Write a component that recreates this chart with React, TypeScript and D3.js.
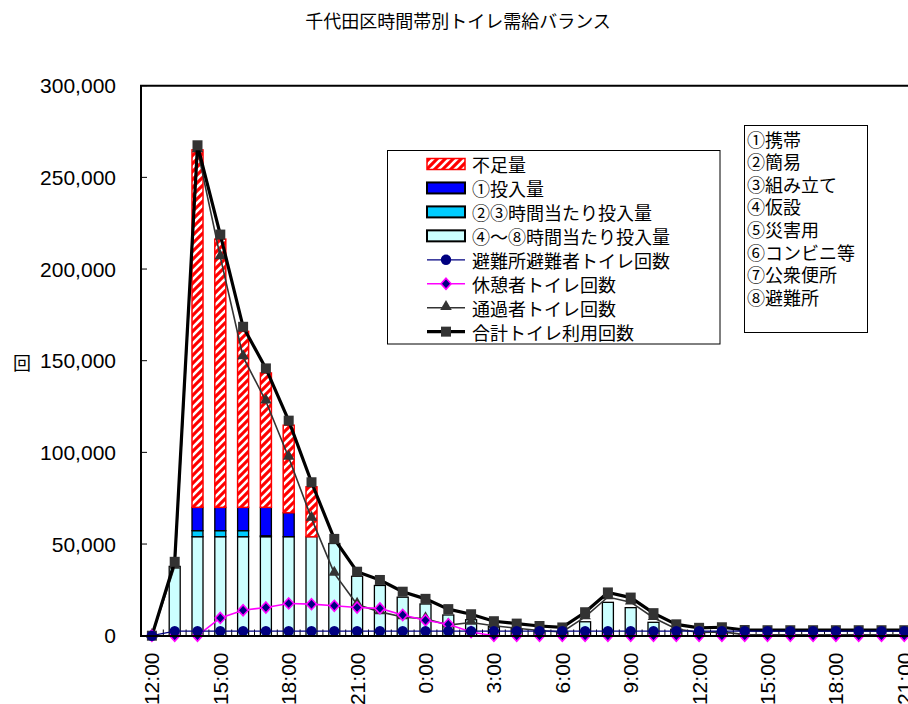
import React from "react";
import * as d3 from "d3";

// ---- data (hourly, from 12:00 day 1) ----
const HOURS: string[] = [
  "12:00","13:00","14:00","15:00","16:00","17:00","18:00","19:00","20:00","21:00","22:00","23:00",
  "0:00","1:00","2:00","3:00","4:00","5:00","6:00","7:00","8:00","9:00","10:00","11:00",
  "12:00","13:00","14:00","15:00","16:00","17:00","18:00","19:00","20:00","21:00","22:00","23:00",
];

// 避難所避難者トイレ回数
const EVAC: number[] = [
  0, 2500, 2500, 2500, 2500, 2500, 2500, 2500, 2500, 2500, 2500, 2500,
  2500, 2500, 2500, 2500, 2500, 2500, 2500, 2500, 2500, 2500, 2500, 2500,
  2500, 2500, 2500, 2500, 2500, 2500, 2500, 2500, 2500, 2500, 2500, 2500,
];
// 休憩者トイレ回数
const REST: number[] = [
  0, 0, 0, 9700, 13900, 15400, 17600, 17200, 16300, 15400, 14900, 11300,
  8400, 6200, 2000, 0, 0, 0, 0, 0, 0, 0, 0, 0,
  0, 0, 0, 0, 0, 0, 0, 0, 0, 0, 0, 0,
];
// 通過者トイレ回数
const PASS: number[] = [
  0, 37800, 265000, 206600, 152100, 127900, 97200, 64000, 34000, 17000, 13000, 10200,
  9200, 5800, 7200, 5400, 4100, 2800, 2000, 10300, 21100, 18300, 9800, 3700,
  1800, 2100, 600, 500, 500, 500, 500, 500, 500, 500, 500, 500,
];
// 合計トイレ利用回数
const TOTAL: number[] = [
  0, 40300, 267500, 218800, 168500, 145800, 117300, 83700, 52800, 34900, 30400, 24000,
  20100, 14500, 11700, 7900, 6600, 5300, 4500, 12800, 23600, 20800, 12300, 6200,
  4300, 4600, 3100, 3000, 3000, 3000, 3000, 3000, 3000, 3000, 3000, 3000,
];

// bars (stacked)
const SUPPLY48: number[] = [
  0, 37800, 54000, 54000, 54000, 54000, 54000, 54000, 50300, 32400, 27400, 21000,
  17300, 11300, 8700, 5000, 3800, 2800, 2000, 7600, 18200, 15300, 7300, 3500,
  1800, 2100, 600, 500, 500, 500, 500, 500, 500, 500, 500, 500,
];
const SUPPLY23: number[] = [
  0, 0, 3300, 3300, 3300, 500, 0, 0, 0, 0, 0, 0,
  0, 0, 0, 0, 0, 0, 0, 0, 0, 0, 0, 0,
  0, 0, 0, 0, 0, 0, 0, 0, 0, 0, 0, 0,
];
const SUPPLY1: number[] = [
  0, 0, 12700, 12700, 12700, 15500, 13100, 0, 0, 0, 0, 0,
  0, 0, 0, 0, 0, 0, 0, 0, 0, 0, 0, 0,
  0, 0, 0, 0, 0, 0, 0, 0, 0, 0, 0, 0,
];
const SHORTAGE: number[] = [
  0, 0, 195000, 146300, 96000, 73300, 47700, 27200, 0, 0, 0, 0,
  0, 0, 0, 0, 0, 0, 0, 0, 0, 0, 0, 0,
  0, 0, 0, 0, 0, 0, 0, 0, 0, 0, 0, 0,
];

const Y_TICKS: number[] = [0, 50000, 100000, 150000, 200000, 250000, 300000];

const LEGEND_ITEMS: string[] = [
  "不足量", "①投入量", "②③時間当たり投入量", "④～⑧時間当たり投入量",
  "避難所避難者トイレ回数", "休憩者トイレ回数", "通過者トイレ回数", "合計トイレ利用回数",
];
const TOILET_TYPES: string[] = [
  "①携帯", "②簡易", "③組み立て", "④仮設", "⑤災害用", "⑥コンビニ等", "⑦公衆便所", "⑧避難所",
];

const TITLE = "千代田区時間帯別トイレ需給バランス";

// ---- layout ----
const W = 908, H = 704;
const X0 = 140.5, BAND = 22.8;
const N = HOURS.length;
const JP = "'Noto Sans CJK JP', 'Noto Sans', sans-serif";
const NUM = "'Liberation Sans', Arial, sans-serif";

const C_RED = "#FF0000", C_BLUE = "#0000FF", C_CYAN = "#00CCFF", C_LCYAN = "#CCFFFF";
const C_NAVY = "#000080", C_MAG = "#FF00FF", C_GRAY = "#333333";

export default function App() {
  const x = d3.scaleBand<number>().domain(d3.range(N)).range([X0, X0 + BAND * N]).padding(0);
  const xc = (i: number) => (x(i) as number) + x.bandwidth() / 2;
  const y = d3.scaleLinear().domain([0, 300000]).range([635.7, 85.7]);
  const barW = 11;

  const table = HOURS.map((h, i) => ({
    i, s48: SUPPLY48[i], s23: SUPPLY23[i], s1: SUPPLY1[i], short: SHORTAGE[i],
  }));
  const keys = ["s48", "s23", "s1", "short"];
  const stacked = d3.stack<any>().keys(keys)(table);
  const fills: Record<string, string> = { s48: C_LCYAN, s23: C_CYAN, s1: C_BLUE, short: "url(#hatch)" };
  const strokes: Record<string, string> = { s48: "#000", s23: "#000", s1: "#000", short: C_RED };

  const line = d3.line<number>().x((_, i) => xc(i)).y((v) => y(v));
  const sq = d3.symbol().type(d3.symbolSquare).size(100)();
  const tri = d3.symbol().type(d3.symbolTriangle).size(58)();
  const diamond = "M0,-5.5L5,0L0,5.5L-5,0Z";

  const legendY = (k: number) => 164 + k * 23.95;
  const typeY = (k: number) => 138.5 + k * 22.6;

  return (
    <svg width={W} height={H} style={{ position: "absolute", left: 0, top: 0, display: "block", background: "#fff" }}>
      <defs>
        <pattern id="hatch" patternUnits="userSpaceOnUse" width={8} height={8}>
          <rect width={8} height={8} fill={C_RED} />
          <path d="M-2,2L2,-2M0,8L8,0M6,10L10,6" stroke="#fff" strokeWidth={2.6} />
        </pattern>
      </defs>

      {/* title */}
      <text x={458} y={20} textAnchor="middle" dominantBaseline="central" fontFamily={JP} fontSize={18} fill="#000">
        {TITLE}
      </text>

      {/* y axis label */}
      <text x={22} y={362} textAnchor="middle" dominantBaseline="central" fontFamily={JP} fontSize={18} fill="#000">回</text>

      {/* y tick labels */}
      {Y_TICKS.map((t) => (
        <text key={t} x={116} y={y(t)} textAnchor="end" dominantBaseline="central" fontFamily={NUM} fontSize={21} fill="#000">
          {d3.format(",")(t)}
        </text>
      ))}

      {/* bars */}
      {stacked.map((layer) => (
        <g key={layer.key}>
          {layer.map((d: any, i: number) => {
            const h = y(d[0]) - y(d[1]);
            if (h <= 0) return null;
            return (
              <rect
                key={i}
                x={xc(i) - barW / 2}
                y={y(d[1])}
                width={barW}
                height={h}
                fill={fills[layer.key]}
                stroke={strokes[layer.key]}
                strokeWidth={layer.key === "short" ? 1.5 : 1.3}
              />
            );
          })}
        </g>
      ))}

      {/* x ticks (category boundaries) */}
      {d3.range(N + 1).map((k) => (
        <line key={k} x1={X0 + BAND * k} x2={X0 + BAND * k} y1={636} y2={629.5} stroke="#000" strokeWidth={1} />
      ))}
      {/* y ticks */}
      {Y_TICKS.map((t) => (
        <line key={t} x1={141} x2={147} y1={y(t)} y2={y(t)} stroke="#000" strokeWidth={1} />
      ))}

      {/* pass line */}
      <path d={line(PASS) || ""} fill="none" stroke={C_GRAY} strokeWidth={1.6} />
      {PASS.map((v, i) => (
        <path key={i} d={tri || ""} transform={`translate(${xc(i)},${y(v) - 1})`} fill={C_GRAY} />
      ))}

      {/* total line */}
      <path d={line(TOTAL) || ""} fill="none" stroke="#000" strokeWidth={3.2} />
      {TOTAL.map((v, i) => (
        <path key={i} d={sq || ""} transform={`translate(${xc(i)},${y(v)})`} fill={C_GRAY} />
      ))}

      {/* rest line */}
      <path d={line(REST) || ""} fill="none" stroke={C_MAG} strokeWidth={1.6} />
      {REST.map((v, i) => (
        <path key={i} d={diamond} transform={`translate(${xc(i)},${y(v)})`} fill={C_NAVY} stroke={C_MAG} strokeWidth={1.6} />
      ))}

      {/* evac line */}
      <path d={line(EVAC) || ""} fill="none" stroke={C_NAVY} strokeWidth={1.2} />
      {EVAC.map((v, i) => (
        <circle key={i} cx={xc(i)} cy={y(v)} r={5.2} fill={C_NAVY} />
      ))}

      {/* plot frame */}
      <line x1={141} x2={141} y1={85.7} y2={636.5} stroke="#000" strokeWidth={2} />
      <line x1={140} x2={W + 5} y1={85.7} y2={85.7} stroke="#000" strokeWidth={2} />
      <line x1={140} x2={W + 5} y1={636} y2={636} stroke="#000" strokeWidth={2} />

      {/* x labels */}
      {HOURS.map((h, i) =>
        i % 3 === 0 ? (
          <text
            key={i}
            transform={`translate(${xc(i)},652.5) rotate(-90)`}
            textAnchor="end"
            dy="0.36em"
            fontFamily={NUM}
            fontSize={21}
            fill="#000"
          >
            {h}
          </text>
        ) : null
      )}

      {/* legend 1 */}
      <rect x={387.5} y={150.5} width={332.5} height={193.5} fill="#fff" stroke="#000" strokeWidth={1} />
      {LEGEND_ITEMS.map((lab, k) => {
        const cy = legendY(k);
        let sym: React.ReactNode = null;
        if (k === 0) sym = <rect x={427} y={cy - 5.5} width={38} height={11} fill="url(#hatch)" stroke={C_RED} strokeWidth={1.5} />;
        if (k === 1) sym = <rect x={427} y={cy - 5.5} width={38} height={11} fill={C_BLUE} stroke="#000" strokeWidth={2} />;
        if (k === 2) sym = <rect x={427} y={cy - 5.5} width={38} height={11} fill={C_CYAN} stroke="#000" strokeWidth={2} />;
        if (k === 3) sym = <rect x={427} y={cy - 5.5} width={38} height={11} fill={C_LCYAN} stroke="#000" strokeWidth={2} />;
        if (k === 4)
          sym = (
            <g>
              <line x1={427} x2={465} y1={cy} y2={cy} stroke={C_NAVY} strokeWidth={1.2} />
              <circle cx={446} cy={cy} r={5.2} fill={C_NAVY} />
            </g>
          );
        if (k === 5)
          sym = (
            <g>
              <line x1={427} x2={465} y1={cy} y2={cy} stroke={C_MAG} strokeWidth={1.6} />
              <path d={diamond} transform={`translate(446,${cy})`} fill={C_NAVY} stroke={C_MAG} strokeWidth={1.6} />
            </g>
          );
        if (k === 6)
          sym = (
            <g>
              <line x1={427} x2={465} y1={cy} y2={cy} stroke={C_GRAY} strokeWidth={1.6} />
              <path d={tri || ""} transform={`translate(446,${cy - 1})`} fill={C_GRAY} />
            </g>
          );
        if (k === 7)
          sym = (
            <g>
              <line x1={427} x2={465} y1={cy} y2={cy} stroke="#000" strokeWidth={3.2} />
              <path d={sq || ""} transform={`translate(446,${cy})`} fill={C_GRAY} />
            </g>
          );
        return (
          <g key={k}>
            {sym}
            <text x={472} y={cy} dominantBaseline="central" fontFamily={JP} fontSize={18} fill="#000">
              {lab}
            </text>
          </g>
        );
      })}

      {/* legend 2 */}
      <rect x={744.5} y={125.5} width={123} height={207} fill="#fff" stroke="#000" strokeWidth={1} />
      {TOILET_TYPES.map((lab, k) => (
        <text key={k} x={747} y={typeY(k)} dominantBaseline="central" fontFamily={JP} fontSize={18} fill="#000">
          {lab}
        </text>
      ))}
    </svg>
  );
}
